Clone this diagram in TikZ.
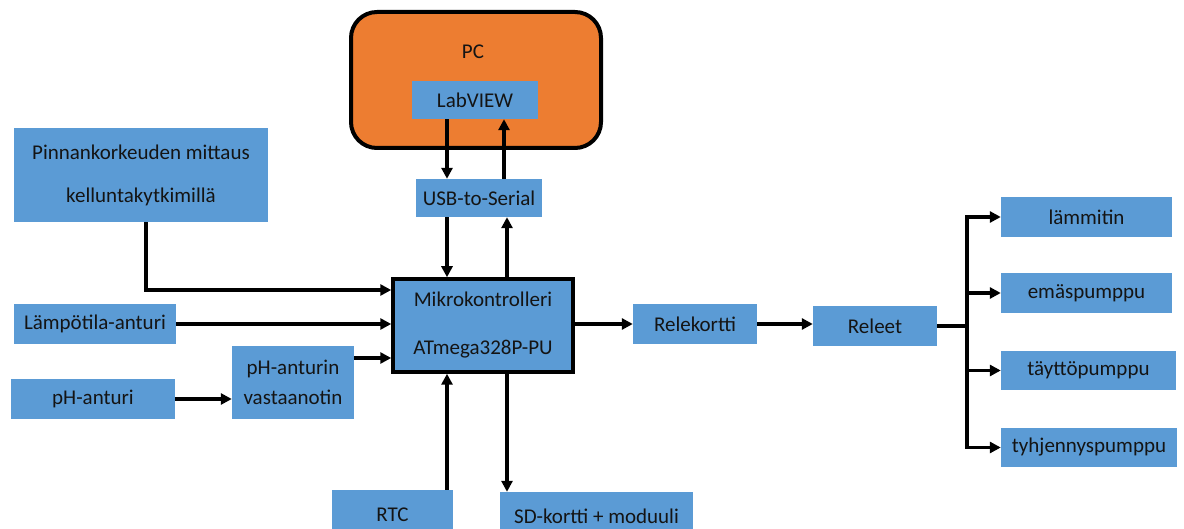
\documentclass[tikz,border=0pt]{standalone}
\usepackage{fontspec}
\setmainfont{Carlito}
\usetikzlibrary{arrows.meta}
\definecolor{boxblue}{HTML}{5B9BD5}
\definecolor{pcorange}{HTML}{ED7D31}
\definecolor{txt}{HTML}{141414}
\tikzset{
  bx/.style={fill=boxblue, inner sep=0pt, text=txt, align=center, font=\fontsize{21}{25}\selectfont},
  mcubox/.style={bx, draw=black, line width=3.5pt},
  pcbox/.style={fill=pcorange, draw=black, line width=4pt, rounded corners=26pt, inner sep=0pt},
  arr/.style={line width=3.5pt, -{Triangle[length=11pt,width=11pt]}},
  ln/.style={line width=3.5pt},
}
\begin{document}
\begin{tikzpicture}[x=1pt,y=-1pt]
\useasboundingbox[fill=white] (0,0) rectangle (1184,529);
% PC
\node[pcbox, minimum width=250pt, minimum height=136pt] (pc) at (476,80) {};
\node[text=txt, font=\fontsize{21}{25}\selectfont] (pclabel) at (473,52) {PC};
\node[bx, minimum width=126pt, minimum height=38pt] (lab) at (475,100) {LabVIEW};
\node[bx, minimum width=126pt, minimum height=38pt] (usb) at (479,198) {USB-to-Serial};
% MCU
\node[mcubox, minimum width=180pt, minimum height=93pt] (mcu) at (483,325.5) {Mikrokontrolleri\\[23pt]ATmega328P-PU};
% inputs
\node[bx, minimum width=254pt, minimum height=94pt] (pin) at (141,175) {Pinnankorkeuden mittaus\\[18pt]kelluntakytkimillä};
\node[bx, minimum width=162pt, minimum height=40pt] (lamp) at (95,324) {Lämpötila-anturi};
\node[bx, minimum width=164pt, minimum height=40pt] (ph) at (93,399) {pH-anturi};
\node[bx, minimum width=122pt, minimum height=73pt] (phr) at (293,382.5) {pH-anturin\\[5pt]vastaanotin};
% bottom
\node[bx, minimum width=121pt, minimum height=50pt] (rtc) at (392.5,515) {RTC};
\node[bx, minimum width=193pt, minimum height=48pt] (sd) at (596.5,516) {SD-kortti + moduuli};
% relays
\node[bx, minimum width=124pt, minimum height=40pt] (rele) at (695,324) {Relekortti};
\node[bx, minimum width=124pt, minimum height=40pt] (releet) at (875,326) {Releet};
\coordinate (br) at (967,326);
\node[bx, minimum width=171pt, minimum height=40pt] (o1) at (1086.5,217) {lämmitin};
\node[bx, minimum width=171pt, minimum height=40pt] (o2) at (1086.5,293) {emäspumppu};
\node[bx, minimum width=175pt, minimum height=39pt] (o3) at (1088.5,370.5) {täyttöpumppu};
\node[bx, minimum width=176pt, minimum height=39pt] (o4) at (1089,447.5) {tyhjennyspumppu};
% connectors
\draw[arr] ([xshift=-28pt]lab.south) -- ([xshift=-28pt]lab.south |- usb.north);
\draw[arr] ([xshift=25pt]usb.north) -- ([xshift=25pt]usb.north |- lab.south);
\draw[arr] ([xshift=-32pt]usb.south) -- ([xshift=-32pt]usb.south |- mcu.north);
\draw[arr] ([xshift=28pt]usb.south |- mcu.north) -- ([xshift=28pt]usb.south);
\draw[arr, line join=miter] ([xshift=5pt]pin.south) |- ([yshift=35.5pt]mcu.west);
\draw[arr] (lamp.east) -- (lamp.east -| mcu.west);
\draw[arr] (ph.east) -- (ph.east -| phr.west);
\draw[arr] ([yshift=24.5pt]phr.east) -- ([yshift=24.5pt]phr.east -| mcu.west);
\draw[arr] ([xshift=54.5pt]rtc.north) -- ([xshift=54.5pt]rtc.north |- mcu.south);
\draw[arr] ([xshift=-89.5pt]sd.north |- mcu.south) -- ([xshift=-89.5pt]sd.north);
\draw[arr] (rele.west -| mcu.east) -- (rele.west);
\draw[arr] (rele.east) -- (rele.east -| releet.west);
\draw[ln] (releet.east) -- (br);
\draw[arr, line join=miter] (br) |- (o1.west);
\draw[arr] (br) |- (o2.west);
\draw[arr] (br) |- (o3.west);
\draw[arr, line join=miter] (br) |- (o4.west);
\end{tikzpicture}
\end{document}
